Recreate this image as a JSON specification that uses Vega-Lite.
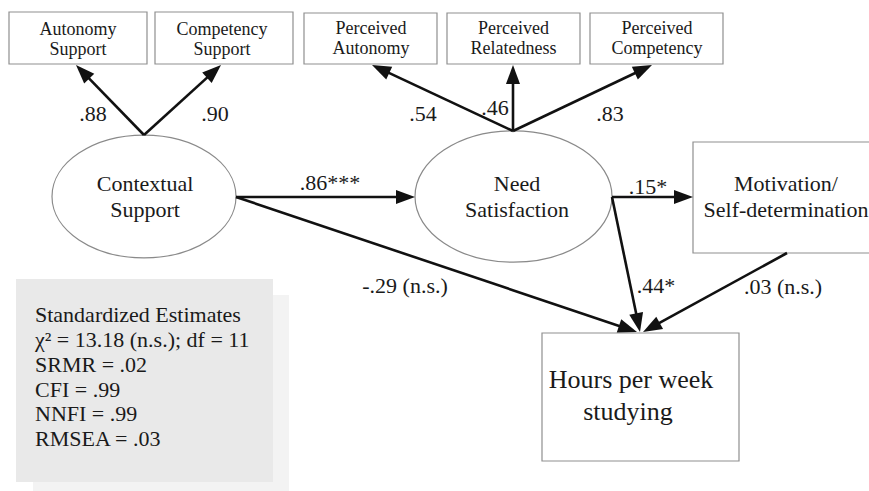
{
  "$schema": "https://vega.github.io/schema/vega-lite/v6.json",
  "width": 869,
  "height": 491,
  "autosize": {"type": "fit", "contains": "padding"},
  "padding": 0,
  "background": "white",
  "config": {"view": {"stroke": null}},
  "datasets": {
    "statsbg": [
      {"part": "shadow", "x1": 33, "y1": 295, "x2": 289, "y2": 500},
      {"part": "main", "x1": 16, "y1": 279, "x2": 273, "y2": 482}
    ],
    "boxes": [
      {"node": "Autonomy Support", "x1": 9, "y1": 12, "x2": 147, "y2": 64},
      {"node": "Competency Support", "x1": 155, "y1": 12, "x2": 293, "y2": 64},
      {"node": "Perceived Autonomy", "x1": 304, "y1": 13, "x2": 437, "y2": 64},
      {"node": "Perceived Relatedness", "x1": 447, "y1": 13, "x2": 580, "y2": 64},
      {"node": "Perceived Competency", "x1": 590, "y1": 13, "x2": 723, "y2": 64},
      {"node": "Motivation/Self-determination", "x1": 693, "y1": 142, "x2": 890, "y2": 253},
      {"node": "Hours per week studying", "x1": 542, "y1": 333, "x2": 739, "y2": 461}
    ],
    "latentA": [{"node": "Contextual Support", "x": 144, "y": 196.5}],
    "latentB": [{"node": "Need Satisfaction", "x": 513.5, "y": 196.5}],
    "paths": [
      {"from": "Contextual Support", "to": "Autonomy Support", "coef": ".88", "x1": 144, "y1": 135, "x2": 76, "y2": 65},
      {"from": "Contextual Support", "to": "Competency Support", "coef": ".90", "x1": 144, "y1": 135, "x2": 221, "y2": 65},
      {"from": "Need Satisfaction", "to": "Perceived Autonomy", "coef": ".54", "x1": 513, "y1": 131, "x2": 372, "y2": 65},
      {"from": "Need Satisfaction", "to": "Perceived Relatedness", "coef": ".46", "x1": 513, "y1": 131, "x2": 513, "y2": 65},
      {"from": "Need Satisfaction", "to": "Perceived Competency", "coef": ".83", "x1": 513, "y1": 131, "x2": 652, "y2": 65},
      {"from": "Contextual Support", "to": "Need Satisfaction", "coef": ".86***", "x1": 236, "y1": 197, "x2": 415, "y2": 197},
      {"from": "Contextual Support", "to": "Hours per week studying", "coef": "-.29 (n.s.)", "x1": 236, "y1": 197, "x2": 637, "y2": 332},
      {"from": "Need Satisfaction", "to": "Motivation/Self-determination", "coef": ".15*", "x1": 612, "y1": 197, "x2": 693, "y2": 197},
      {"from": "Need Satisfaction", "to": "Hours per week studying", "coef": ".44*", "x1": 612, "y1": 197, "x2": 640, "y2": 332},
      {"from": "Motivation/Self-determination", "to": "Hours per week studying", "coef": ".03 (n.s.)", "x1": 787, "y1": 253, "x2": 643, "y2": 332}
    ],
    "smallText": [
      {"text": "Autonomy", "x": 78, "y": 35},
      {"text": "Support", "x": 78, "y": 55},
      {"text": "Competency", "x": 222, "y": 35},
      {"text": "Support", "x": 222, "y": 55},
      {"text": "Perceived", "x": 371, "y": 34},
      {"text": "Autonomy", "x": 371, "y": 54},
      {"text": "Perceived", "x": 513.5, "y": 34},
      {"text": "Relatedness", "x": 513.5, "y": 54},
      {"text": "Perceived", "x": 657, "y": 34},
      {"text": "Competency", "x": 657, "y": 54}
    ],
    "mainText": [
      {"text": "Contextual", "x": 145, "y": 191},
      {"text": "Support", "x": 145, "y": 217},
      {"text": "Need", "x": 517, "y": 191},
      {"text": "Satisfaction", "x": 517, "y": 217},
      {"text": "Motivation/", "x": 786, "y": 191},
      {"text": "Self-determination", "x": 786, "y": 217},
      {"text": ".88", "x": 93, "y": 121},
      {"text": ".90", "x": 215, "y": 121},
      {"text": ".54", "x": 423, "y": 121},
      {"text": ".46", "x": 495, "y": 115},
      {"text": ".83", "x": 610, "y": 121},
      {"text": ".86***", "x": 330, "y": 190},
      {"text": ".15*", "x": 648, "y": 194},
      {"text": "-.29 (n.s.)", "x": 405, "y": 293},
      {"text": ".44*", "x": 656, "y": 293},
      {"text": ".03 (n.s.)", "x": 783, "y": 294}
    ],
    "hoursText": [
      {"text": "Hours per week", "x": 631, "y": 388},
      {"text": "studying", "x": 628, "y": 420}
    ],
    "statsText": [
      {"text": "Standardized Estimates", "x": 35, "y": 322},
      {"text": "χ² = 13.18 (n.s.); df = 11", "x": 35, "y": 347},
      {"text": "SRMR = .02", "x": 35, "y": 372},
      {"text": "CFI = .99", "x": 35, "y": 397},
      {"text": "NNFI = .99", "x": 35, "y": 421},
      {"text": "RMSEA = .03", "x": 35, "y": 446}
    ]
  },
  "layer": [
    {
      "data": {"name": "statsbg"},
      "mark": {"type": "rect", "clip": true},
      "encoding": {
        "x": {"field": "x1", "type": "quantitative", "scale": {"domain": [0, 869], "nice": false, "zero": false}, "axis": null},
        "x2": {"field": "x2"},
        "y": {"field": "y1", "type": "quantitative", "scale": {"domain": [0, 491], "nice": false, "zero": false, "reverse": true}, "axis": null},
        "y2": {"field": "y2"},
        "fill": {"field": "part", "type": "nominal", "scale": {"domain": ["shadow", "main"], "range": ["#f3f3f3", "#e9e9e9"]}, "legend": null}
      }
    },
    {
      "data": {"name": "boxes"},
      "mark": {"type": "rect", "clip": true, "fill": "white", "stroke": "#8f8f8f", "strokeWidth": 1.2},
      "encoding": {
        "x": {"field": "x1", "type": "quantitative", "scale": {"domain": [0, 869], "nice": false, "zero": false}, "axis": null},
        "x2": {"field": "x2"},
        "y": {"field": "y1", "type": "quantitative", "scale": {"domain": [0, 491], "nice": false, "zero": false, "reverse": true}, "axis": null},
        "y2": {"field": "y2"}
      }
    },
    {
      "data": {"name": "latentA"},
      "mark": {"type": "point", "clip": true, "filled": false, "opacity": 1, "stroke": "#8a8a8a", "strokeWidth": 1.2, "size": 33856,
        "shape": "M-1,0 C-1,-0.3684 -0.5523,-0.667 0,-0.667 C0.5523,-0.667 1,-0.3684 1,0 C1,0.3684 0.5523,0.667 0,0.667 C-0.5523,0.667 -1,0.3684 -1,0 Z"},
      "encoding": {
        "x": {"field": "x", "type": "quantitative", "scale": {"domain": [0, 869], "nice": false, "zero": false}, "axis": null},
        "y": {"field": "y", "type": "quantitative", "scale": {"domain": [0, 491], "nice": false, "zero": false, "reverse": true}, "axis": null}
      }
    },
    {
      "data": {"name": "latentB"},
      "mark": {"type": "point", "clip": true, "filled": false, "opacity": 1, "stroke": "#8a8a8a", "strokeWidth": 1.2, "size": 38809,
        "shape": "M-1,0 C-1,-0.3684 -0.5523,-0.667 0,-0.667 C0.5523,-0.667 1,-0.3684 1,0 C1,0.3684 0.5523,0.667 0,0.667 C-0.5523,0.667 -1,0.3684 -1,0 Z"},
      "encoding": {
        "x": {"field": "x", "type": "quantitative", "scale": {"domain": [0, 869], "nice": false, "zero": false}, "axis": null},
        "y": {"field": "y", "type": "quantitative", "scale": {"domain": [0, 491], "nice": false, "zero": false, "reverse": true}, "axis": null}
      }
    },
    {
      "data": {"name": "paths"},
      "transform": [
        {"calculate": "sqrt(pow(datum.x2 - datum.x1, 2) + pow(datum.y2 - datum.y1, 2))", "as": "len"},
        {"calculate": "datum.x2 - 11 * (datum.x2 - datum.x1) / datum.len", "as": "xe"},
        {"calculate": "datum.y2 - 11 * (datum.y2 - datum.y1) / datum.len", "as": "ye"}
      ],
      "mark": {"type": "rule", "clip": true, "color": "#111111", "strokeWidth": 2.6, "strokeCap": "butt"},
      "encoding": {
        "x": {"field": "x1", "type": "quantitative", "scale": {"domain": [0, 869], "nice": false, "zero": false}, "axis": null},
        "y": {"field": "y1", "type": "quantitative", "scale": {"domain": [0, 491], "nice": false, "zero": false, "reverse": true}, "axis": null},
        "x2": {"field": "xe"},
        "y2": {"field": "ye"}
      }
    },
    {
      "data": {"name": "paths"},
      "transform": [
        {"calculate": "atan2(datum.x2 - datum.x1, datum.y1 - datum.y2) * 180 / PI", "as": "ang"}
      ],
      "mark": {"type": "point", "clip": true, "filled": true, "opacity": 1, "color": "#111111", "size": 1444, "shape": "M0,0 L0.37,1 L-0.37,1 Z"},
      "encoding": {
        "x": {"field": "x2", "type": "quantitative", "scale": {"domain": [0, 869], "nice": false, "zero": false}, "axis": null},
        "y": {"field": "y2", "type": "quantitative", "scale": {"domain": [0, 491], "nice": false, "zero": false, "reverse": true}, "axis": null},
        "angle": {"field": "ang", "type": "quantitative", "scale": null}
      }
    },
    {
      "data": {"name": "smallText"},
      "mark": {"type": "text", "clip": true, "font": "Liberation Serif", "fontSize": 18, "align": "center", "baseline": "alphabetic", "color": "#1a1a1a"},
      "encoding": {
        "x": {"field": "x", "type": "quantitative", "scale": {"domain": [0, 869], "nice": false, "zero": false}, "axis": null},
        "y": {"field": "y", "type": "quantitative", "scale": {"domain": [0, 491], "nice": false, "zero": false, "reverse": true}, "axis": null},
        "text": {"field": "text"}
      }
    },
    {
      "data": {"name": "mainText"},
      "mark": {"type": "text", "clip": true, "font": "Liberation Serif", "fontSize": 22, "align": "center", "baseline": "alphabetic", "color": "#1a1a1a"},
      "encoding": {
        "x": {"field": "x", "type": "quantitative", "scale": {"domain": [0, 869], "nice": false, "zero": false}, "axis": null},
        "y": {"field": "y", "type": "quantitative", "scale": {"domain": [0, 491], "nice": false, "zero": false, "reverse": true}, "axis": null},
        "text": {"field": "text"}
      }
    },
    {
      "data": {"name": "hoursText"},
      "mark": {"type": "text", "clip": true, "font": "Liberation Serif", "fontSize": 26, "align": "center", "baseline": "alphabetic", "color": "#1a1a1a"},
      "encoding": {
        "x": {"field": "x", "type": "quantitative", "scale": {"domain": [0, 869], "nice": false, "zero": false}, "axis": null},
        "y": {"field": "y", "type": "quantitative", "scale": {"domain": [0, 491], "nice": false, "zero": false, "reverse": true}, "axis": null},
        "text": {"field": "text"}
      }
    },
    {
      "data": {"name": "statsText"},
      "mark": {"type": "text", "clip": true, "font": "Liberation Serif", "fontSize": 22, "align": "left", "baseline": "alphabetic", "color": "#1a1a1a"},
      "encoding": {
        "x": {"field": "x", "type": "quantitative", "scale": {"domain": [0, 869], "nice": false, "zero": false}, "axis": null},
        "y": {"field": "y", "type": "quantitative", "scale": {"domain": [0, 491], "nice": false, "zero": false, "reverse": true}, "axis": null},
        "text": {"field": "text"}
      }
    }
  ]
}
